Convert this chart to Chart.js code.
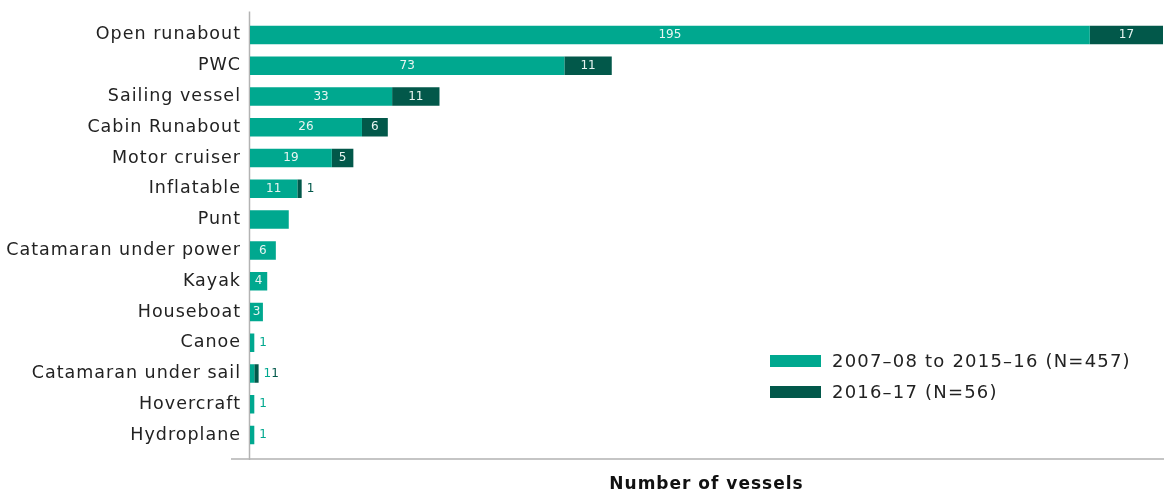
<!DOCTYPE html>
<html>
<head>
<meta charset="utf-8">
<script src="https://cdn.jsdelivr.net/npm/chart.js@4.4.1/dist/chart.umd.min.js"></script>
<style>
  html, body { margin: 0; padding: 0; background: #fff; }
  #wrap { position: relative; width: 1164px; height: 498px; }
  #legend { position: absolute; left: 770px; top: 345px; font-family: "DejaVu Sans", sans-serif; font-size: 18px; letter-spacing: 1.2px; color: #222; }
  #legend div { height: 31px; line-height: 31px; display: flex; align-items: center; }
  #legend span.sw { display: inline-block; width: 51px; height: 12px; margin-right: 11px; }
</style>
</head>
<body>
<div id="wrap">
  <canvas id="vesselChart" width="1164" height="498"></canvas>
  <div id="legend"></div>
</div>
<script>
const categories = [
  "Open runabout", "PWC", "Sailing vessel", "Cabin Runabout", "Motor cruiser",
  "Inflatable", "Punt", "Catamaran under power", "Kayak", "Houseboat",
  "Canoe", "Catamaran under sail", "Hovercraft", "Hydroplane"
];
const earlier = [195, 73, 33, 26, 19, 11, 9, 6, 4, 3, 1, 1, 1, 1];
const recent = [17, 11, 11, 6, 5, 1, 0, 0, 0, 0, 0, 1, 0, 0];
// Punt has no printed value
const hideLabel = [[6], []];
const seriesNames = ["2007\u201308 to 2015\u201316 (N=457)", "2016\u201317 (N=56)"];
const colors = ["#00A88F", "#02584A"];

const FONT = "'DejaVu Sans', sans-serif";

// wider tracking for the axis text
const tracking = {
  id: "tracking",
  beforeDraw(chart) { chart.ctx.letterSpacing = "1px"; }
};

// value labels: inside the bar when it fits, otherwise after the stack
const valueLabels = {
  id: "valueLabels",
  afterDatasetsDraw(chart) {
    const ctx = chart.ctx;
    ctx.save();
    ctx.letterSpacing = "0px";
    ctx.font = "12px " + FONT;
    ctx.textBaseline = "middle";
    const nextX = {};
    chart.data.datasets.forEach((ds, di) => {
      chart.getDatasetMeta(di).data.forEach((bar, i) => {
        const v = ds.data[i];
        if (!v || hideLabel[di].includes(i)) return;
        const txt = String(v);
        const w = ctx.measureText(txt).width;
        const left = Math.min(bar.base, bar.x);
        const barW = Math.abs(bar.x - bar.base);
        if (barW >= w + 3) {
          ctx.fillStyle = "#e8f5f2";
          ctx.textAlign = "center";
          ctx.fillText(txt, left + barW / 2, bar.y);
        } else {
          // stack end of this row
          let end = bar.x;
          chart.data.datasets.forEach((d2, dj) => {
            const b = chart.getDatasetMeta(dj).data[i];
            if (d2.data[i]) end = Math.max(end, b.x);
          });
          const x = nextX[i] !== undefined ? nextX[i] : end + 5;
          ctx.fillStyle = colors[di];
          ctx.textAlign = "left";
          ctx.fillText(txt, x, bar.y);
          nextX[i] = x + w;
        }
      });
    });
    ctx.restore();
  }
};

// axis lines running a bit past the plot area
const axisLines = {
  id: "axisLines",
  beforeDatasetsDraw(chart) {
    const { ctx, chartArea } = chart;
    ctx.save();
    ctx.strokeStyle = "#b3b3b3";
    ctx.lineWidth = 1.5;
    ctx.beginPath();
    ctx.moveTo(chartArea.left - 0.5, chartArea.top - 8);
    ctx.lineTo(chartArea.left - 0.5, chartArea.bottom + 9.5);
    ctx.moveTo(chartArea.left - 19, chartArea.bottom + 8.5);
    ctx.lineTo(chartArea.right + 1, chartArea.bottom + 8.5);
    ctx.stroke();
    ctx.restore();
  }
};

new Chart(document.getElementById("vesselChart"), {
  type: "bar",
  data: {
    labels: categories,
    datasets: [
      { label: seriesNames[0], data: earlier, backgroundColor: colors[0] },
      { label: seriesNames[1], data: recent, backgroundColor: colors[1] }
    ]
  },
  options: {
    indexAxis: "y",
    responsive: false,
    animation: false,
    layout: { padding: { top: 16.5, right: 1, left: 0, bottom: 0 } },
    datasets: { bar: { categoryPercentage: 1, barPercentage: 0.6 } },
    plugins: {
      legend: { display: false },
      tooltip: { enabled: false }
    },
    scales: {
      x: {
        stacked: true,
        min: 0,
        max: 212,
        grid: { display: false, drawTicks: false },
        border: { display: false },
        ticks: { display: false },
        title: {
          display: true,
          text: "Number of vessels",
          color: "#111",
          font: { family: FONT, size: 17, weight: "bold" },
          padding: { top: 0, bottom: 3 }
        },
        afterFit: s => { s.height = 47.5; }
      },
      y: {
        stacked: true,
        grid: { display: false, drawTicks: false },
        border: { display: false },
        ticks: {
          color: "#222",
          padding: 9,
          font: { family: FONT, size: 17.5 }
        },
        afterFit: s => { s.width = 250; }
      }
    }
  },
  plugins: [tracking, axisLines, valueLabels]
});

const legend = document.getElementById("legend");
seriesNames.forEach((name, i) => {
  const row = document.createElement("div");
  row.innerHTML = `<span class="sw" style="background:${colors[i]}"></span>${name}`;
  legend.appendChild(row);
});
</script>
</body>
</html>
